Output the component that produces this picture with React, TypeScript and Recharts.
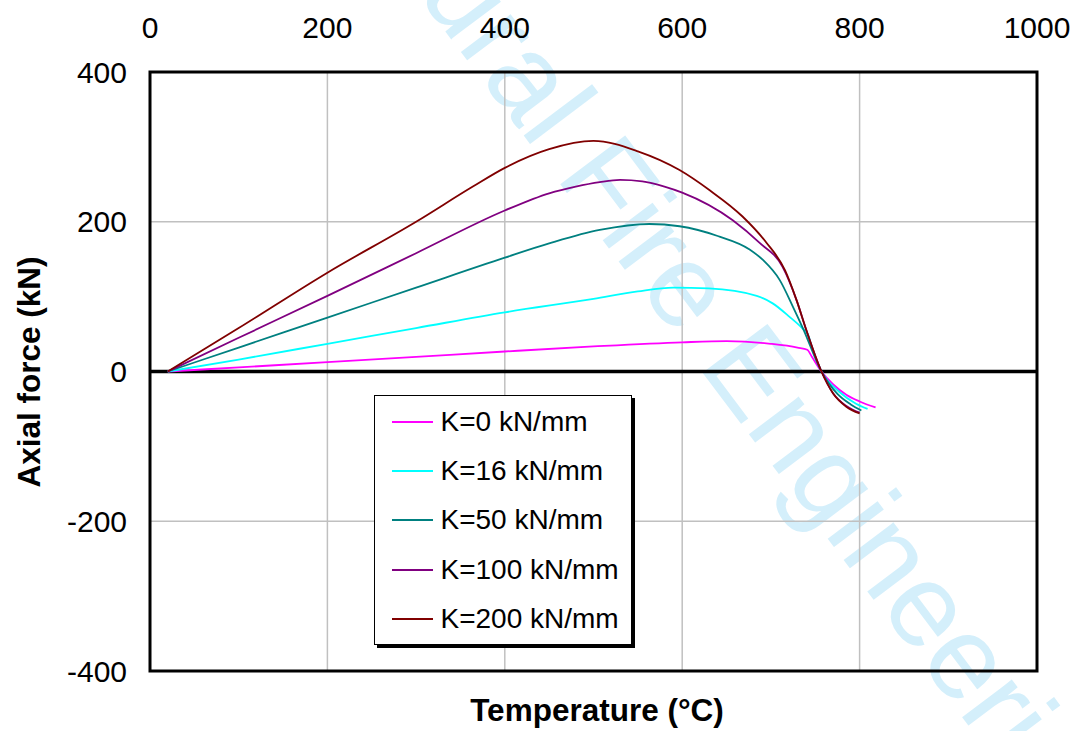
import { LineChart, Line, XAxis, YAxis, CartesianGrid, ReferenceLine, ReferenceArea, Legend } from "recharts";

// temperature (°C) / axial force (kN) for each restraint stiffness
const tempK0 = [20, 100, 200, 300, 400, 500, 600, 650, 700, 730, 741, 746, 757, 770, 785, 800, 818];
const forceK0 = [0, 5.5, 12.4, 19.5, 26.7, 33.5, 39, 40.5, 37, 32, 29, 20, 0, -17, -31, -40, -48];

const tempK16 = [20, 100, 200, 300, 400, 500, 550, 590, 630, 684, 702, 721, 736, 742, 747, 757, 777, 796, 809];
const forceK16 = [0, 16, 37, 58, 79, 97, 107, 112, 111, 101, 91, 73, 57, 49, 29, 0, -27, -43, -50];

const tempK50 = [20, 100, 200, 300, 400, 450, 507, 563, 597, 640, 676, 691, 710, 725, 736, 757, 775, 790, 802];
const forceK50 = [0, 32, 72, 112, 152, 171, 189, 197, 194, 181, 163, 149, 122, 86, 58, 0, -30, -44, -52];

const tempK100 = [20, 100, 200, 300, 400, 450, 480, 507, 530, 555, 580, 600, 657, 687, 713, 729, 740, 757, 770, 785, 800];
const forceK100 = [0, 45, 101, 158, 215, 238, 247, 253, 256, 254, 247, 239, 202, 172, 140, 95, 55, 0, -29, -46, -55];

const tempK200 = [20, 100, 200, 300, 364, 400, 450, 500, 550, 597, 631, 668, 695, 716, 729, 740, 757, 770, 785, 800];
const forceK200 = [0, 58, 132, 200, 247, 272, 297, 308, 294, 269, 242, 207, 172, 135, 95, 55, 0, -29, -47, -56];

const xTicks = [0, 200, 400, 600, 800, 1000];
const yTicks = [-400, -200, 0, 200, 400];

const zip = (t: number[], f: number[]) => t.map((v, i) => ({ t: v, f: f[i] }));

const series = [
  { name: "K=0 kN/mm", color: "#ff00ff", data: zip(tempK0, forceK0) },
  { name: "K=16 kN/mm", color: "#00ffff", data: zip(tempK16, forceK16) },
  { name: "K=50 kN/mm", color: "#008080", data: zip(tempK50, forceK50) },
  { name: "K=100 kN/mm", color: "#800080", data: zip(tempK100, forceK100) },
  { name: "K=200 kN/mm", color: "#800000", data: zip(tempK200, forceK200) },
];

const FONT = "'Liberation Sans', Arial, sans-serif";

const LegendBox = () => (
  <div
    style={{
      width: 258,
      height: 250,
      boxSizing: "border-box",
      border: "1.5px solid #000",
      boxShadow: "3px 3px 0 #000",
      background: "#fff",
      paddingTop: 1,
      fontFamily: FONT,
      fontSize: 28,
      color: "#000",
    }}
  >
    {series.map((s) => (
      <div key={s.name} style={{ display: "flex", alignItems: "center", height: 49.4 }}>
        <span
          style={{
            display: "inline-block",
            width: 41,
            height: 2,
            marginLeft: 16.5,
            marginRight: 8,
            background: s.color,
          }}
        />
        <span style={{ whiteSpace: "nowrap" }}>{s.name}</span>
      </div>
    ))}
  </div>
);

export default function App() {
  return (
    <div style={{ position: "absolute", left: 0, top: 0, width: 1075, height: 731, background: "#fff", overflow: "hidden" }}>
      {/* watermark, behind the chart */}
      <svg width={1075} height={731} style={{ position: "absolute", left: 0, top: 0 }}>
        <text
          x={231}
          y={-253}
          transform="rotate(53 231 -253)"
          fontSize={118}
          fontFamily={FONT}
          fill="#d4effb"
        >
          Structural Fire Engineering
        </text>
      </svg>
      <div style={{ position: "absolute", left: 0, top: 0 }}>
        <LineChart width={1075} height={731} margin={{ top: 0, right: 38, bottom: 60, left: 0 }}>
          <CartesianGrid stroke="#c0c0c0" strokeWidth={1.5} />
          <XAxis
            type="number"
            dataKey="t"
            orientation="top"
            domain={[0, 1000]}
            ticks={xTicks}
            height={72}
            axisLine={false}
            tickLine={false}
            tickSize={0}
            tickMargin={34}
            tick={{ fill: "#000", fontSize: 30, fontFamily: FONT }}
            allowDataOverflow
          />
          <YAxis
            type="number"
            domain={[-400, 400]}
            ticks={yTicks}
            width={150}
            axisLine={false}
            tickLine={false}
            tickSize={0}
            tickMargin={23}
            tick={{ fill: "#000", fontSize: 30, fontFamily: FONT }}
            allowDataOverflow
          />
          <ReferenceArea
            x1={0}
            x2={1000}
            y1={-400}
            y2={400}
            fill="none"
            stroke="#000"
            strokeWidth={3}
            ifOverflow="visible"
          />
          <ReferenceLine y={0} stroke="#000" strokeWidth={3.5} />
          {series.map((s) => (
            <Line
              key={s.name}
              data={s.data}
              dataKey="f"
              name={s.name}
              type="monotone"
              stroke={s.color}
              strokeWidth={1.8}
              dot={false}
              activeDot={false}
              isAnimationActive={false}
            />
          ))}
          <Legend
            layout="horizontal"
            verticalAlign="middle"
            align="center"
            content={() => <LegendBox />}
            wrapperStyle={{ left: 374, top: 395, width: 262, height: 254 }}
          />
          <text
            x={597}
            y={713}
            textAnchor="middle"
            dominantBaseline="middle"
            fontSize={31.5}
            fontWeight="bold"
            fontFamily={FONT}
            fill="#000"
          >
            Temperature (°C)
          </text>
          <text
            x={32}
            y={372}
            transform="rotate(-90 32 372)"
            textAnchor="middle"
            dominantBaseline="middle"
            fontSize={31.5}
            fontWeight="bold"
            fontFamily={FONT}
            fill="#000"
          >
            Axial force (kN)
          </text>
        </LineChart>
      </div>
    </div>
  );
}
